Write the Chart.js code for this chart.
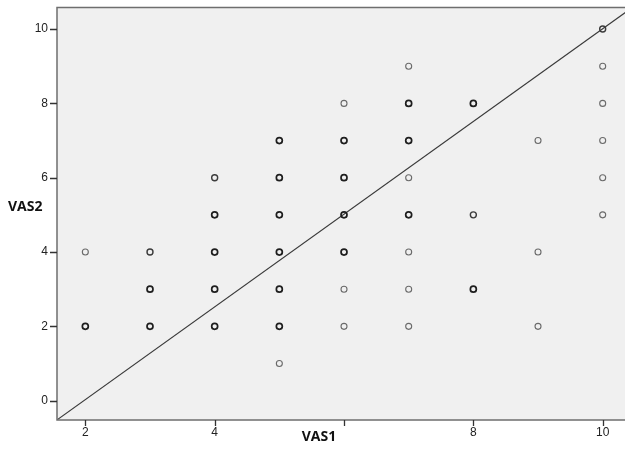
<!DOCTYPE html>
<html>
<head>
<meta charset="utf-8">
<script src="https://cdn.jsdelivr.net/npm/chart.js@4/dist/chart.umd.min.js"></script>
<style>
html,body{margin:0;padding:0;background:#fff;}
#wrap{width:625px;height:449px;position:relative;}
</style>
</head>
<body>
<div id="wrap"><canvas id="c" width="625" height="449"></canvas></div>
<script>
// Data
const vas1 = [2,2, 3,3,3, 4,4,4,4,4, 5,5,5,5,5,5,5, 6,6,6,6,6,6,6, 7,7,7,7,7,7,7,7, 8,8,8, 9,9,9, 10,10,10,10,10,10];
const vas2 = [4,2, 4,3,2, 6,5,4,3,2, 7,6,5,4,3,2,1, 8,7,6,5,4,3,2, 9,8,7,6,5,4,3,2, 8,5,3, 7,4,2, 10,9,8,7,6,5];
// overlap level (1 = single case, 3 = many cases)
const overlap = [1,3, 2,3,3, 2,3,3,3,3, 3,3,3,3,3,3,1, 1,3,3,3,3,1,1, 1,3,3,1,3,1,1,1, 3,2,3, 1,1,1, 2,1,1,1,1,1];
const xTicks = [2,4,6,8,10];
const xTickLabels = ['2','4','','8','10'];
const yTicks = [0,2,4,6,8,10];
const yTickLabels = ['0','2','4','6','8','10'];
const refLineX = [1.56, 10.45];
const refLineY = [-0.52, 10.57];

const colorFor = l => l === 3 ? '#1e1e1e' : (l === 2 ? '#3c3c3c' : '#6a6a6a');
const widthFor = l => l === 3 ? 1.7 : (l === 2 ? 1.4 : 1.1);

const pts = vas1.map((x,i)=>({x:x,y:vas2[i]}));

const bgPlugin = {
  id:'bg',
  beforeDraw(chart){
    const {ctx, chartArea:a} = chart;
    ctx.save();
    ctx.fillStyle = '#f0f0f0';
    ctx.fillRect(a.left, a.top, a.right-a.left, a.bottom-a.top);
    ctx.restore();
  },
  afterDraw(chart){
    const {ctx, chartArea:a} = chart;
    ctx.save();
    ctx.strokeStyle = '#6e6e6e';
    ctx.lineWidth = 1.5;
    ctx.beginPath();
    ctx.moveTo(a.right+2, a.top);
    ctx.lineTo(a.left, a.top);
    ctx.lineTo(a.left, a.bottom);
    ctx.lineTo(a.right+2, a.bottom);
    ctx.stroke();
    ctx.fillStyle = '#111';
    ctx.font = 'bold 14px "Open Sans", "Liberation Sans", sans-serif';
    ctx.textBaseline = 'middle';
    ctx.textAlign = 'left';
    ctx.fillText('VAS2', 8, 207);
    ctx.textAlign = 'center';
    ctx.fillText('VAS1', 319, 437);
    ctx.restore();
  }
};

new Chart(document.getElementById('c'), {
  type:'scatter',
  data:{
    datasets:[
      {
        type:'line',
        data: refLineX.map((x,i)=>({x:x,y:refLineY[i]})),
        borderColor:'#3a3a3a',
        borderWidth:1.1,
        pointRadius:0,
        fill:false,
        order:2
      },
      {
        data: pts,
        pointStyle:'circle',
        pointRadius:3,
        backgroundColor:'rgba(0,0,0,0)',
        pointBorderColor: overlap.map(colorFor),
        pointBorderWidth: overlap.map(widthFor),
        order:1
      }
    ]
  },
  options:{
    responsive:false,
    animation:false,
    layout:{autoPadding:false, padding:{top:7.5,right:0,left:0,bottom:0}},
    plugins:{legend:{display:false},tooltip:{enabled:false}},
    scales:{
      x:{
        type:'linear',
        min:1.562, max:10.345,
        afterBuildTicks(s){ s.ticks = xTicks.map(v=>({value:v})); },
        afterFit(s){ s.height = 29; s.paddingLeft = 0; s.paddingRight = 0; },
        grid:{display:false, drawTicks:false},
        border:{display:false},
        ticks:{
          color:'#222', font:{size:12, family:'"Liberation Sans", Arial, sans-serif'},
          padding:5, maxRotation:0,
          callback:(v)=>{ const i = xTicks.indexOf(v); return i>=0 ? xTickLabels[i] : ''; }
        }
      },
      y:{
        type:'linear',
        min:-0.52, max:10.58,
        afterBuildTicks(s){ s.ticks = yTicks.map(v=>({value:v})); },
        afterFit(s){ s.width = 57; s.paddingTop = 0; s.paddingBottom = 0; },
        grid:{display:false, drawTicks:false},
        border:{display:false},
        ticks:{
          color:'#222', font:{size:12, family:'"Liberation Sans", Arial, sans-serif'},
          padding:9,
          callback:(v)=>{ const i = yTicks.indexOf(v); return i>=0 ? yTickLabels[i] : ''; }
        }
      }
    }
  },
  plugins:[bgPlugin, {
    id:'tickmarks',
    afterDraw(chart){
      const {ctx, chartArea:a, scales} = chart;
      ctx.save();
      ctx.strokeStyle = '#333';
      ctx.lineWidth = 1.3;
      ctx.beginPath();
      xTicks.forEach(v=>{ const px = Math.round(scales.x.getPixelForValue(v))+0.5; ctx.moveTo(px, a.bottom); ctx.lineTo(px, a.bottom+6); });
      yTicks.forEach(v=>{ const py = Math.round(scales.y.getPixelForValue(v))+0.5; ctx.moveTo(a.left, py); ctx.lineTo(a.left-7, py); });
      ctx.stroke();
      ctx.restore();
    }
  }]
});
</script>
</body>
</html>
